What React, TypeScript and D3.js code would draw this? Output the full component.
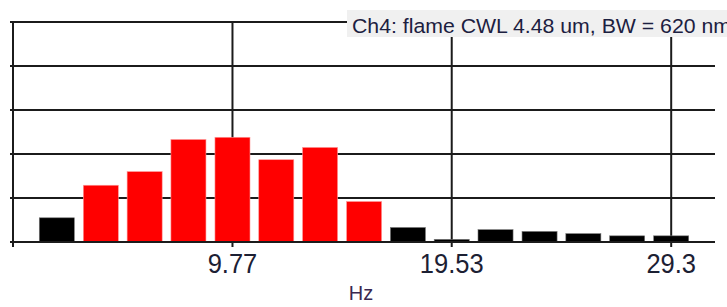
import React, {useEffect, useRef} from "react";
import * as d3 from "d3";

// frequency bins (Hz) and band power
const binHz = [1.95, 3.91, 5.86, 7.81, 9.77, 11.72, 13.67, 15.63, 17.58, 19.53, 21.48, 23.44, 25.39, 27.34, 29.3];
const power = [0.55, 1.29, 1.6, 2.33, 2.38, 1.87, 2.15, 0.92, 0.33, 0.06, 0.28, 0.24, 0.19, 0.14, 0.14];
const inBand = [false, true, true, true, true, true, true, true, false, false, false, false, false, false, false];
const xTicks = [9.77, 19.53, 29.3];
const yTicks = [1, 2, 3, 4, 5];
const title = "Ch4: flame CWL 4.48 um, BW = 620 nm";
const xLabel = "Hz";

const W = 727;
const H = 307;

const App: React.FC = () => {
	const svgRef = useRef<SVGSVGElement>(null);

	useEffect(() => {
		const svg = d3.select(svgRef.current);
		svg.selectAll("*").remove();

		const margin = {top: 22, right: 12, bottom: 65, left: 13};
		const x = d3.scaleLinear().domain([0, 31.25]).range([margin.left, W - margin.right]);
		const y = d3.scaleLinear().domain([0, 5]).range([H - margin.bottom, margin.top]);
		const ink = "#1b1b1b";
		const font = "'Liberation Sans', Arial, sans-serif";

		// horizontal grid
		svg.append("g")
			.selectAll("line")
			.data(yTicks)
			.enter()
			.append("line")
			.attr("x1", x(0) - 3)
			.attr("x2", x(31.25))
			.attr("y1", (d) => y(d))
			.attr("y2", (d) => y(d))
			.attr("stroke", ink)
			.attr("stroke-width", 2);

		// vertical grid
		svg.append("g")
			.selectAll("line")
			.data(xTicks)
			.enter()
			.append("line")
			.attr("x1", (d) => x(d))
			.attr("x2", (d) => x(d))
			.attr("y1", y(5))
			.attr("y2", y(0) + 5)
			.attr("stroke", ink)
			.attr("stroke-width", 2);

		// bars
		const bw = 1.56;
		svg.append("g")
			.selectAll("rect")
			.data(binHz)
			.enter()
			.append("rect")
			.attr("x", (d) => x(d - bw / 2))
			.attr("width", x(bw) - x(0))
			.attr("y", (d, i) => y(power[i]))
			.attr("height", (d, i) => y(0) - y(power[i]))
			.attr("fill", (d, i) => (inBand[i] ? "#ff0000" : "#000000"))
			.attr("stroke", (d, i) => (inBand[i] ? "#ff9a9a" : "#777"))
			.attr("stroke-width", 0.6);

		// axes
		svg.append("line")
			.attr("x1", x(0) - 3)
			.attr("x2", x(31.25))
			.attr("y1", y(0))
			.attr("y2", y(0))
			.attr("stroke", ink)
			.attr("stroke-width", 2);
		svg.append("line")
			.attr("x1", x(0))
			.attr("x2", x(0))
			.attr("y1", y(5) - 1)
			.attr("y2", y(0) + 5)
			.attr("stroke", ink)
			.attr("stroke-width", 2);

		// tick labels
		svg.append("g")
			.selectAll("text")
			.data(xTicks)
			.enter()
			.append("text")
			.attr("transform", (d) => `translate(${x(d)},${y(0) + 31}) scale(1,1.08)`)
			.attr("text-anchor", "middle")
			.style("font-family", font)
			.style("font-size", "25.5px")
			.style("fill", "#1c2033")
			.text((d) => String(d));

		svg.append("text")
			.attr("x", 361)
			.attr("y", 300)
			.attr("text-anchor", "middle")
			.style("font-family", font)
			.style("font-size", "20px")
			.style("fill", "#3a2850")
			.text(xLabel);

		// title box
		svg.append("rect")
			.attr("x", 347)
			.attr("y", 10)
			.attr("width", W - 347)
			.attr("height", 27)
			.attr("fill", "#f0f0f0");
		svg.append("text")
			.attr("x", 352)
			.attr("y", 33)
			.attr("textLength", 379)
			.attr("lengthAdjust", "spacingAndGlyphs")
			.style("font-family", font)
			.style("font-size", "20.5px")
			.style("fill", "#1c2040")
			.text(title);
	}, []);

	return (
		<svg
			ref={svgRef}
			width={W}
			height={H}
			style={{position: "absolute", left: 0, top: 0, background: "#fff"}}
		/>
	);
};

export default App;
